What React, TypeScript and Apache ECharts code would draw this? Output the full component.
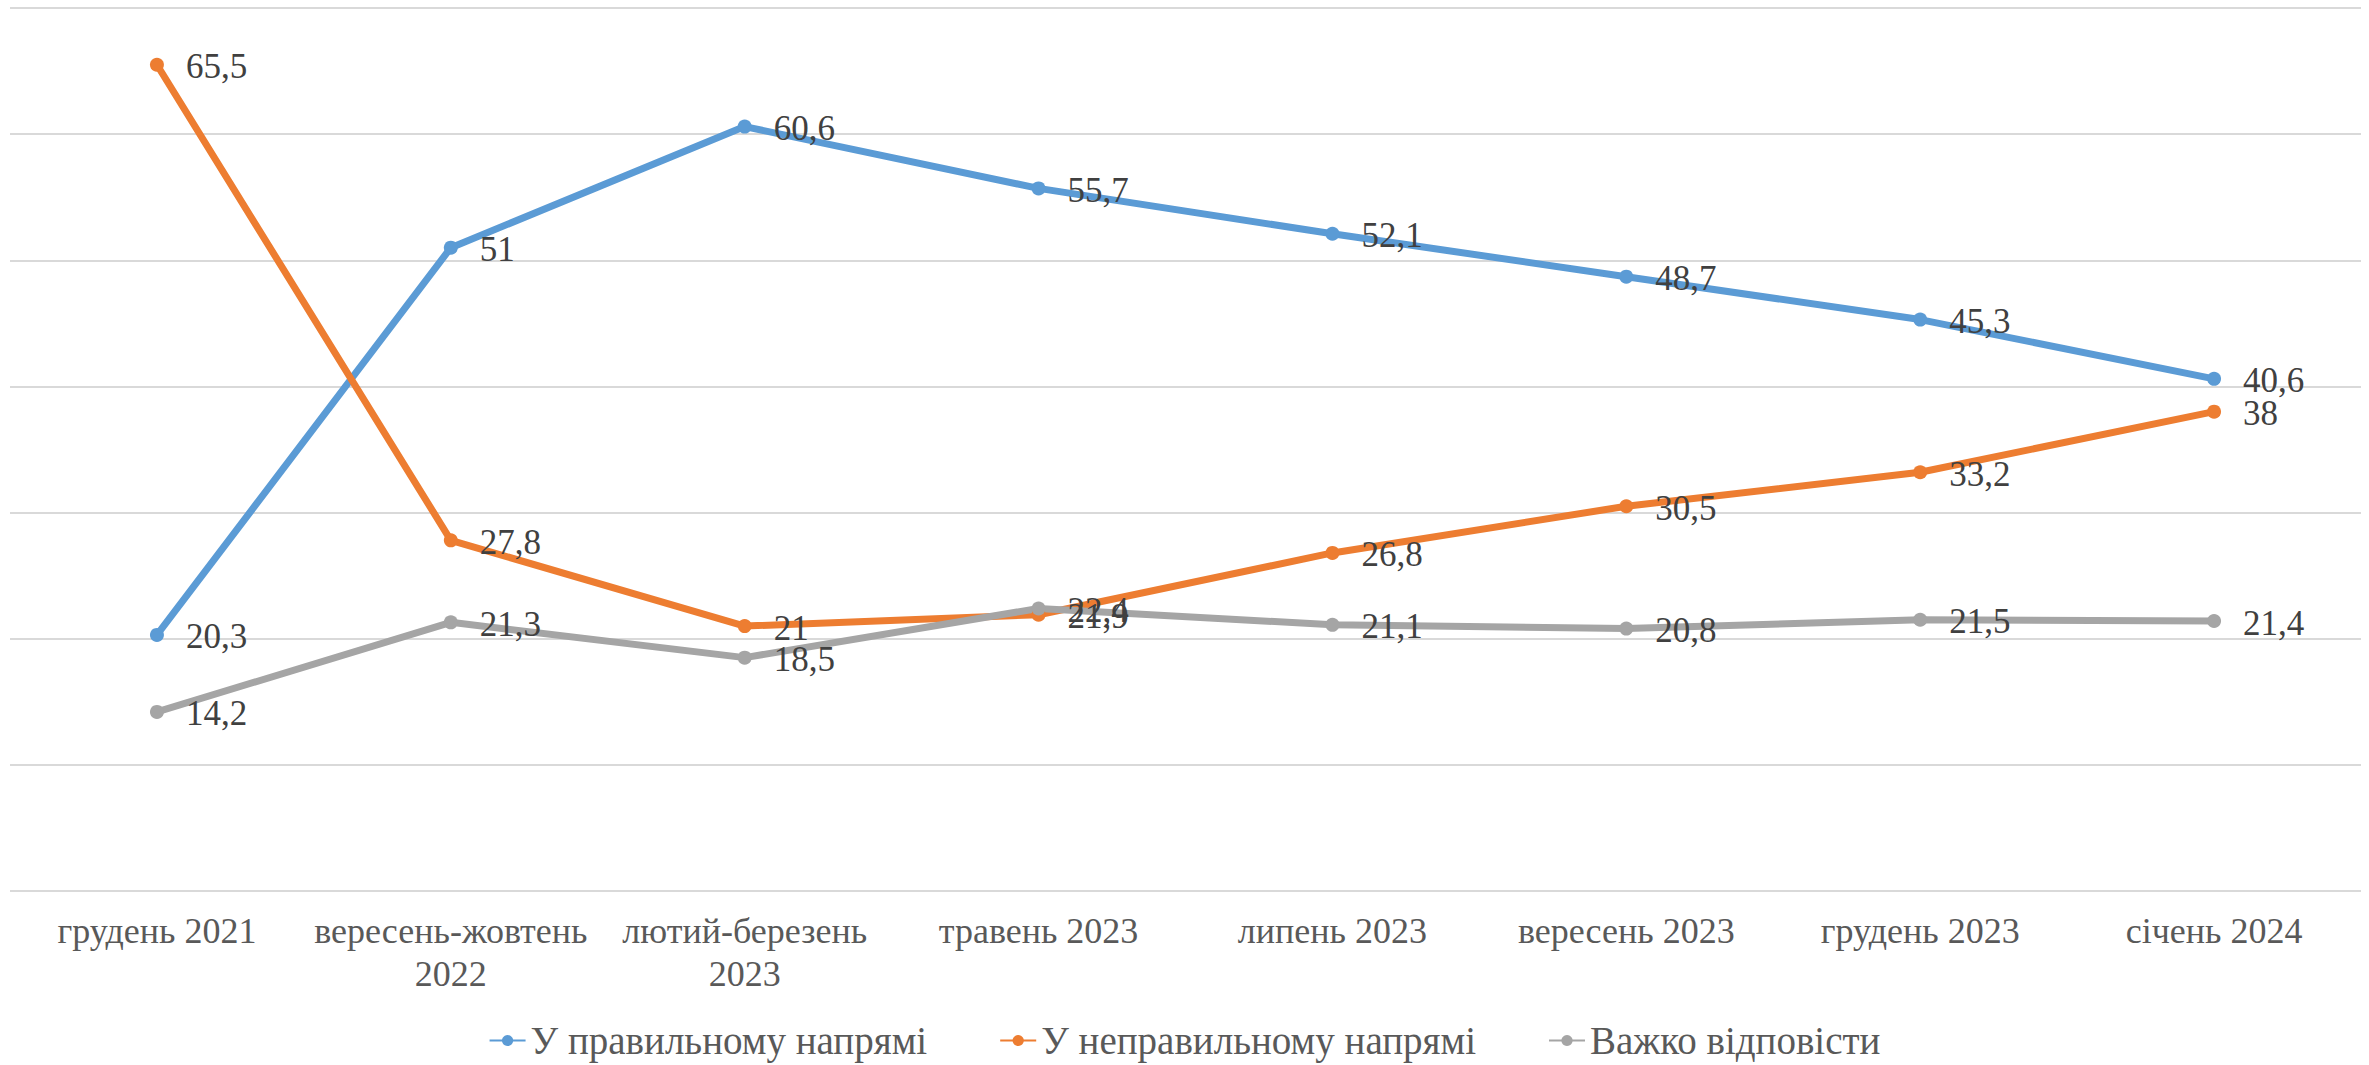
import React, { useEffect, useRef } from "react";
import * as echarts from "echarts";

const categories = [
  "грудень 2021",
  "вересень-жовтень 2022",
  "лютий-березень 2023",
  "травень 2023",
  "липень 2023",
  "вересень 2023",
  "грудень 2023",
  "січень 2024",
];

const rightDirection = [20.3, 51, 60.6, 55.7, 52.1, 48.7, 45.3, 40.6];
const wrongDirection = [65.5, 27.8, 21, 21.9, 26.8, 30.5, 33.2, 38];
const hardToSay = [14.2, 21.3, 18.5, 22.4, 21.1, 20.8, 21.5, 21.4];

const seriesNames = ["У правильному напрямі", "У неправильному напрямі", "Важко відповісти"];
const seriesColors = ["#5B9BD5", "#ED7D31", "#A5A5A5"];

const FONT = "Liberation Serif";

export default function App() {
  const ref = useRef<HTMLDivElement>(null);

  useEffect(() => {
    document.body.style.margin = "0";
    if (!ref.current) return;
    const chart = echarts.init(ref.current, null, { renderer: "svg" });
    const datasets = [rightDirection, wrongDirection, hardToSay];
    chart.setOption({
      animation: false,
      backgroundColor: "#ffffff",
      textStyle: { fontFamily: FONT },
      grid: { left: 10, right: 8, top: 8, bottom: 174, containLabel: false },
      legend: {
        top: 1016,
        left: "center",
        itemWidth: 36,
        itemHeight: 14,
        itemGap: 72,
        textStyle: { fontFamily: FONT, fontSize: 39, color: "#595959" },
        data: seriesNames,
      },
      xAxis: {
        type: "category",
        data: categories,
        boundaryGap: true,
        axisLine: { show: false },
        axisTick: { show: false },
        axisLabel: {
          interval: 0,
          margin: 18,
          fontFamily: FONT,
          fontSize: 36,
          lineHeight: 43,
          color: "#595959",
          formatter: (v: string) => {
            if (v.length > 14) {
              const i = v.lastIndexOf(" ");
              return v.slice(0, i) + "\n" + v.slice(i + 1);
            }
            return v;
          },
        },
      },
      yAxis: {
        type: "value",
        min: 0,
        max: 70,
        interval: 10,
        axisLabel: { show: false },
        axisLine: { show: false },
        axisTick: { show: false },
        splitLine: { lineStyle: { color: "#d9d9d9", width: 2 } },
      },
      series: datasets.map((d, i) => ({
        name: seriesNames[i],
        type: "line",
        data: d,
        color: seriesColors[i],
        symbol: "circle",
        symbolSize: 14,
        lineStyle: { width: 7, color: seriesColors[i] },
        itemStyle: { color: seriesColors[i] },
        label: {
          show: true,
          position: "right",
          distance: 22,
          offset: [0, 2],
          fontFamily: FONT,
          fontSize: 35,
          color: "#404040",
          formatter: (p: any) => String(p.value).replace(".", ","),
        },
      })),
    });
    return () => chart.dispose();
  }, []);

  return <div ref={ref} style={{ width: 2369, height: 1065 }} />;
}
